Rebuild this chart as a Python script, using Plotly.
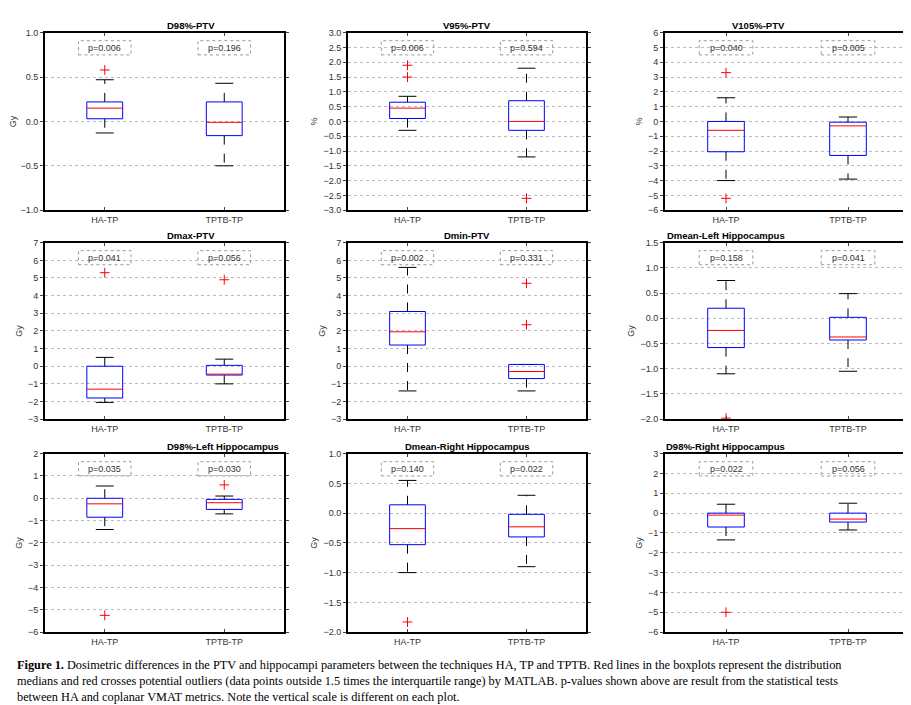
import plotly.graph_objects as go

titles = ["D98%-PTV", "V95%-PTV", "V105%-PTV", "Dmax-PTV", "Dmin-PTV",
          "Dmean-Left Hippocampus", "D98%-Left Hippocampus",
          "Dmean-Right Hippocampus", "D98%-Right Hippocampus"]
units = ["Gy", "%", "%", "Gy", "Gy", "Gy", "Gy", "Gy", "Gy"]
groups = ["HA-TP", "TPTB-TP"]
yranges = [(-1, 1), (-3, 3), (-6, 6), (-3, 7), (-3, 7), (-2, 1.5), (-6, 2), (-2, 1), (-6, 3)]
dticks = [0.5, 0.5, 1, 1, 1, 0.5, 1, 0.5, 1]

# per panel: [HA-TP, TPTB-TP] as (low whisker, q1, median, q3, high whisker)
stats = [
    [(-0.13, 0.03, 0.15, 0.22, 0.47), (-0.5, -0.16, -0.01, 0.22, 0.43)],
    [(-0.3, 0.1, 0.45, 0.65, 0.85), (-1.2, -0.3, 0.0, 0.7, 1.8)],
    [(-4.0, -2.05, -0.6, 0.0, 1.6), (-3.9, -2.3, -0.3, -0.05, 0.3)],
    [(-2.05, -1.8, -1.3, 0.0, 0.5), (-1.0, -0.5, -0.45, 0.05, 0.4)],
    [(-1.4, 1.2, 1.95, 3.1, 5.6), (-1.4, -0.7, -0.3, 0.1, 0.1)],
    [(-1.1, -0.58, -0.24, 0.2, 0.75), (-1.05, -0.43, -0.37, 0.02, 0.49)],
    [(-1.4, -0.85, -0.25, 0.0, 0.55), (-0.7, -0.5, -0.2, -0.05, 0.1)],
    [(-1.0, -0.53, -0.26, 0.14, 0.55), (-0.9, -0.4, -0.23, -0.02, 0.3)],
    [(-1.35, -0.7, -0.1, 0.0, 0.45), (-0.85, -0.45, -0.3, 0.0, 0.5)],
]
outliers = [
    [[0.58], []],
    [[1.5, 1.9], [-2.6]],
    [[3.3, -5.2], []],
    [[5.3], [4.9]],
    [[], [2.35, 4.7]],
    [[-1.98], []],
    [[-5.25], [0.6]],
    [[-1.83], []],
    [[-5.0], []],
]
pvalues = [
    ["0.006", "0.196"], ["0.006", "0.594"], ["0.040", "0.005"],
    ["0.041", "0.056"], ["0.002", "0.331"], ["0.158", "0.041"],
    ["0.035", "0.030"], ["0.140", "0.022"], ["0.022", "0.056"],
]

W, H = 911, 705
col_px = [(37, 276), (340, 578), (657, 901)]
row_px = [(20, 200), (233, 412), (447, 628)]

fig = go.Figure()
hw, cw = 0.15, 0.075  # box half width, cap half width
for i in range(9):
    r, c = divmod(i, 3)
    n = "" if i == 0 else str(i + 1)
    xa, ya = "x" + n, "y" + n
    for g in range(2):
        lo, q1, med, q3, hi = stats[i][g]
        x0 = g + 1
        # whiskers
        fig.add_trace(go.Scatter(x=[x0, x0, None, x0, x0], y=[q3, hi, None, q1, lo], mode="lines",
                                 line=dict(color="black", width=1, dash="dash"), xaxis=xa, yaxis=ya))
        fig.add_trace(go.Scatter(x=[x0 - cw, x0 + cw, None, x0 - cw, x0 + cw], y=[hi, hi, None, lo, lo],
                                 mode="lines", line=dict(color="black", width=1), xaxis=xa, yaxis=ya))
        # box
        fig.add_trace(go.Scatter(x=[x0 - hw, x0 + hw, x0 + hw, x0 - hw, x0 - hw], y=[q1, q1, q3, q3, q1],
                                 mode="lines", line=dict(color="blue", width=1), xaxis=xa, yaxis=ya))
        fig.add_trace(go.Scatter(x=[x0 - hw, x0 + hw], y=[med, med], mode="lines",
                                 line=dict(color="red", width=1), xaxis=xa, yaxis=ya))
        if outliers[i][g]:
            fig.add_trace(go.Scatter(x=[x0] * len(outliers[i][g]), y=outliers[i][g], mode="markers",
                                     marker=dict(symbol="cross-thin", size=7, line=dict(color="red", width=1)),
                                     xaxis=xa, yaxis=ya))
        # p-value label
        fig.add_shape(type="rect", xref=xa, yref=ya + " domain", x0=x0 - 0.22, x1=x0 + 0.22, y0=0.875, y1=0.955,
                      line=dict(color="#999", width=1, dash="dot"))
        fig.add_annotation(xref=xa, yref=ya + " domain", x=x0, y=0.915, yanchor="middle",
                           text="p=" + pvalues[i][g], showarrow=False, font=dict(size=9, color="#333"))
    xd = (col_px[c][0] / W, col_px[c][1] / W)
    yd = (1 - row_px[r][1] / H, 1 - row_px[r][0] / H)
    lo_r, hi_r = yranges[i]
    fmt = ".1f" if dticks[i] < 1 else "d"
    fig.update_layout(**{
        "xaxis" + n: dict(domain=xd, anchor=ya, range=[0.5, 2.5], tickvals=[1, 2], ticktext=groups,
                          showline=True, mirror="ticks", linecolor="black", linewidth=2,
                          ticks="inside", ticklen=3, showgrid=False, zeroline=False,
                          tickfont=dict(size=9, color="#333")),
        "yaxis" + n: dict(domain=yd, anchor=xa, range=[lo_r, hi_r], dtick=dticks[i], tickformat=fmt,
                          showline=True, mirror="ticks", linecolor="black", linewidth=2,
                          ticks="outside", ticklen=3, showgrid=True, gridcolor="#bbb", griddash="dot",
                          gridwidth=1, zeroline=False, tickfont=dict(size=9, color="#333"),
                          title=dict(text=units[i], font=dict(size=9, color="#333"), standoff=4)),
    })
    fig.add_annotation(xref="paper", yref="paper", x=sum(xd) / 2, y=yd[1], yanchor="bottom",
                       text="<b>" + titles[i] + "</b>", showarrow=False, font=dict(size=9.5, color="black"))

caption = ("<b>Figure 1.</b> Dosimetric differences in the PTV and hippocampi parameters between the techniques HA, TP and TPTB. "
           "Red lines in the boxplots represent the distribution<br>medians and red crosses potential outliers "
           "(data points outside 1.5 times the interquartile range) by MATLAB. p-values shown above are result from the statistical tests<br>"
           "between HA and coplanar VMAT metrics. Note the vertical scale is different on each plot.")
fig.add_annotation(xref="paper", yref="paper", x=0.008, y=1 - 652 / H, xanchor="left", yanchor="top", align="left",
                   text=caption, showarrow=False, font=dict(family="Liberation Serif", size=12.3, color="black"))

fig.update_layout(width=W, height=H, margin=dict(l=0, r=0, t=0, b=0), showlegend=False,
                  plot_bgcolor="white", paper_bgcolor="white",
                  font=dict(family="Liberation Sans"))
fig.write_html("out.html")
